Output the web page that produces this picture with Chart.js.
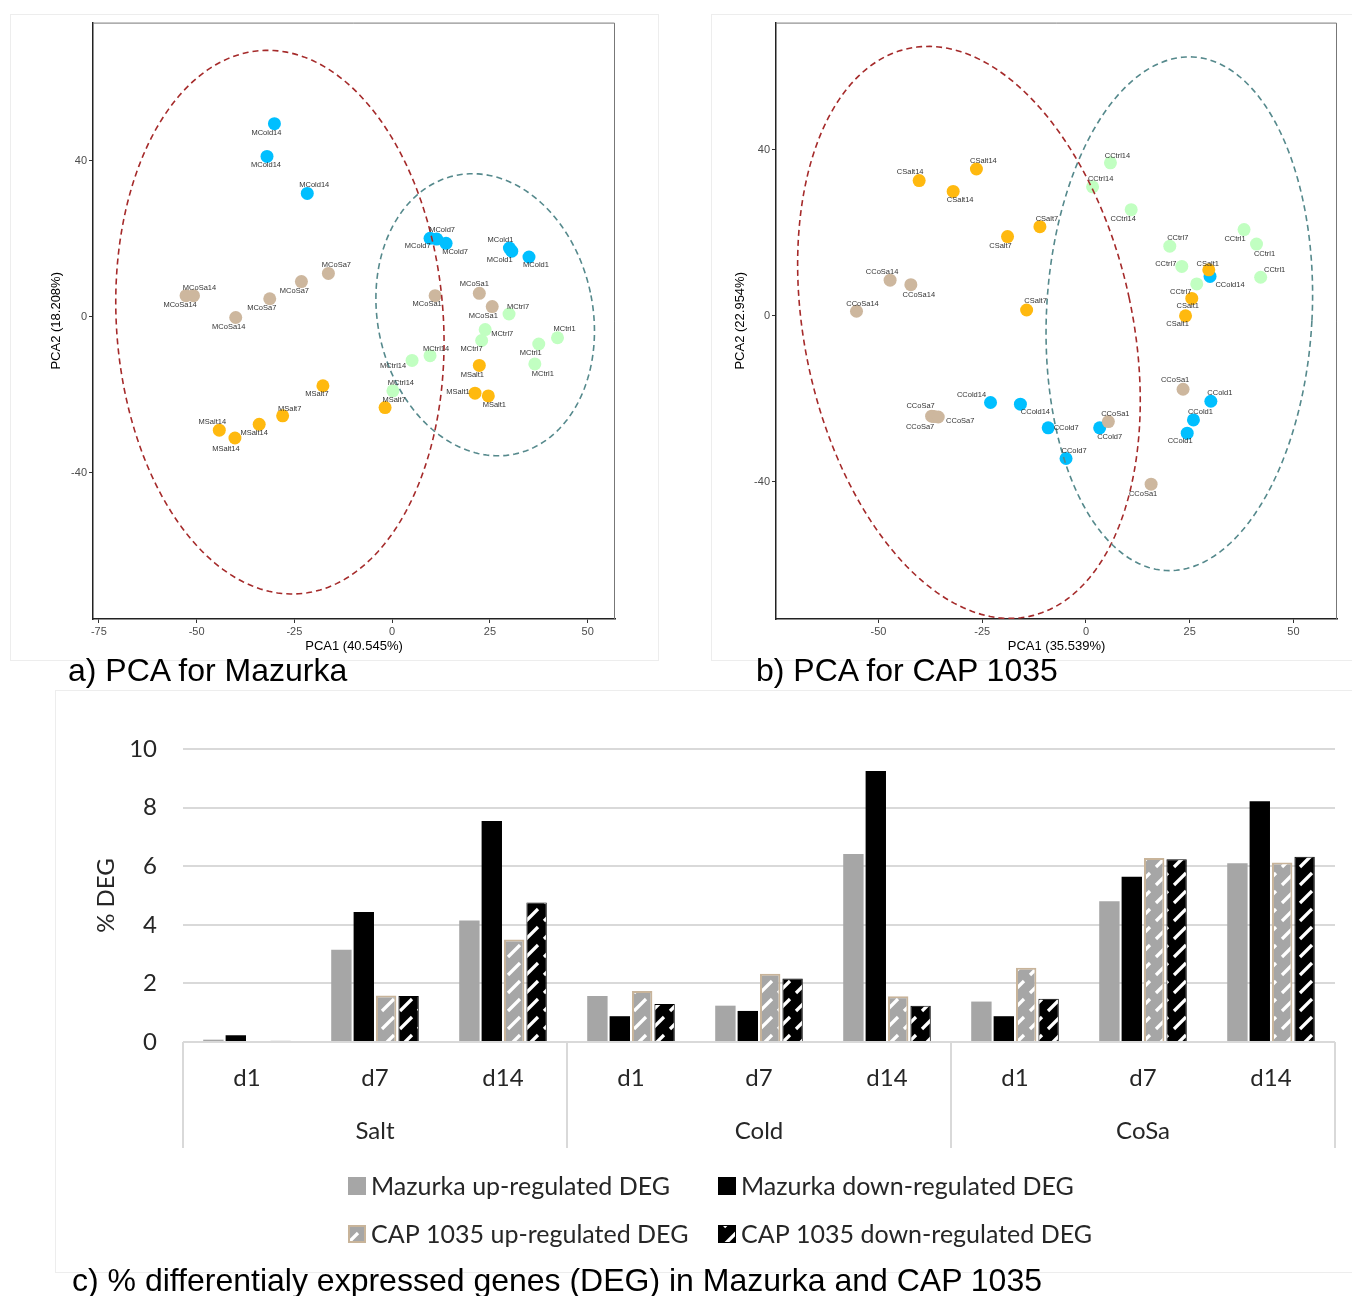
<!DOCTYPE html>
<html>
<head>
<meta charset="utf-8">
<script src="https://cdn.jsdelivr.net/npm/chart.js@4.4.1/dist/chart.umd.min.js"></script>
<style>
  body { margin: 0; background: #fff; width: 1352px; height: 1296px; position: relative; overflow: hidden; }
  .frame { position: absolute; border: 1px solid #ededed; box-sizing: border-box; }
  canvas { position: absolute; }
  .cap { position: absolute; font-family: "Liberation Sans", Arial, sans-serif; font-size: 32px; line-height: 36px; color: #000; white-space: nowrap; }
</style>
</head>
<body>
<div class="frame" style="left:10px;top:14px;width:649px;height:647px"></div>
<div class="frame" style="left:711px;top:14px;width:650px;height:647px"></div>
<div class="frame" style="left:55px;top:690px;width:1310px;height:583px"></div>
<canvas id="pcaM" width="648" height="646" style="left:10px;top:14px"></canvas>
<canvas id="pcaC" width="641" height="646" style="left:711px;top:14px"></canvas>
<canvas id="deg" width="1297" height="582" style="left:55px;top:690px"></canvas>
<div class="cap" style="left:68px;top:652px">a) PCA for Mazurka</div>
<div class="cap" style="left:756px;top:652px">b) PCA for CAP 1035</div>
<div class="cap" style="left:72px;top:1262px">c) % differentialy expressed genes (DEG) in Mazurka and CAP 1035</div>

<script>
// ── PCA Mazurka ─────────────────────────────
const maLabel = ['MCold14','MCold14','MCold14','MCold7','MCold7','MCold7','MCold1','MCold1','MCold1',
  'MCoSa14','MCoSa14','MCoSa14','MCoSa7','MCoSa7','MCoSa7','MCoSa1','MCoSa1','MCoSa1',
  'MSalt14','MSalt14','MSalt14','MSalt7','MSalt7','MSalt7','MSalt1','MSalt1','MSalt1',
  'MCtrl14','MCtrl14','MCtrl14','MCtrl7','MCtrl7','MCtrl7','MCtrl1','MCtrl1','MCtrl1'];
const maPC1 = [-30.1, -32.0, -21.7, 9.7, 11.4, 13.8, 30.0, 30.6, 35.0,
  -52.7, -50.8, -40.0, -16.3, -23.2, -31.3, 11.0, 22.3, 25.6,
  -34.0, -44.2, -40.2, -17.7, -28.0, -1.8, 22.3, 21.2, 24.6,
  5.1, 9.7, 0.2, 29.9, 23.8, 22.9, 42.3, 37.5, 36.5];
const maPC2 = [49.5, 41.1, 31.6, 20.1, 19.9, 18.8, 17.6, 16.8, 15.3,
  5.4, 5.4, -0.2, 11.1, 9.0, 4.6, 5.4, 6.0, 2.6,
  -27.6, -29.1, -31.1, -17.7, -25.4, -23.3, -12.5, -19.6, -20.3,
  -11.2, -10.0, -19.0, 0.7, -3.3, -6.1, -5.4, -7.0, -12.1];

// ── PCA CAP 1035 ────────────────────────────
const capLabel = ['CSalt14','CSalt14','CSalt14','CSalt7','CSalt7','CSalt7','CSalt1','CSalt1','CSalt1',
  'CCoSa14','CCoSa14','CCoSa14','CCoSa7','CCoSa7','CCoSa7','CCoSa1','CCoSa1','CCoSa1',
  'CCold14','CCold14','CCold14','CCold7','CCold7','CCold7','CCold1','CCold1','CCold1',
  'CCtrl14','CCtrl14','CCtrl14','CCtrl7','CCtrl7','CCtrl7','CCtrl1','CCtrl1','CCtrl1'];
const capPC1 = [-40.2, -32.0, -26.4, -11.1, -18.9, -14.3, 29.6, 25.5, 24.0,
  -47.2, -42.2, -55.3, -37.2, -36.6, -35.6, 5.4, 23.4, 15.7,
  -23.0, -15.8, 29.9, -9.1, -4.8, 3.3, 30.1, 25.9, 24.4,
  5.9, 1.6, 10.9, 20.2, 23.1, 26.7, 38.1, 41.1, 42.1];
const capPC2 = [32.6, 30.0, 35.4, 21.5, 19.1, 1.4, 11.1, 4.2, 0.0,
  8.6, 7.5, 1.1, -24.2, -24.3, -24.4, -25.5, -17.7, -40.6,
  -20.9, -21.3, 9.5, -27.0, -34.4, -27.0, -20.6, -25.1, -28.3,
  36.9, 31.1, 25.6, 16.8, 11.9, 7.7, 20.8, 17.3, 9.3];

// text nudges for the point labels (px), same order as the label arrays
const maNudge = [[-8,9],[-1,9],[7,-9],[12,-8],[-19,7],[9,9],[-9,-8],[-12,9],[7,8],
  [-6,9],[6,-8],[-7,9],[8,-8],[-7,9],[-8,9],[-8,8],[-5,-9],[-9,9],
  [-5,9],[-7,-8],[-9,11],[-6,8],[7,-7],[9,-8],[-7,9],[-17,-1],[6,9],
  [-19,6],[6,-7],[8,-8],[9,-7],[17,4],[-10,8],[7,-9],[-8,9],[8,10]];
const capNudge = [[-9,-9],[7,9],[7,-8],[7,-8],[-7,9],[9,-9],[-1,-6],[-4,8],[-8,8],
  [-8,-8],[8,10],[6,-7],[-11,-10],[-14,10],[22,4],[7,-8],[-8,-9],[-8,10],
  [-19,-8],[15,8],[20,9],[18,0],[8,-8],[10,9],[9,-8],[7,-8],[-7,8],
  [7,-7],[8,-8],[-8,9],[8,-8],[-16,-3],[-16,8],[-9,9],[8,10],[14,-7]];

const groupNames  = ['Salt', 'CoSa', 'Ctrl', 'Cold'];
const groupColors = ['#FFB90F', '#CDB79E', '#C1FFC1', '#00BFFF'];

// stat_ellipse outlines (data units)
const maEllipses  = [
  { cx: -28.7, cy: -1.4, a: 41.8, b: 69.8, theta: 4,  color: '#a52a2a' },
  { cx: 23.8,  cy: 0.5,  a: 27.5, b: 36.5, theta: 12, color: '#55898c' },
];
const capEllipses = [
  { cx: -28.2, cy: -4.0, a: 39.5, b: 70.0, theta: 12, color: '#a52a2a' },
  { cx: 22.5,  cy: 0.5,  a: 32.0, b: 62.0, theta: -3, color: '#55898c' },
];

// ── DEG bars ────────────────────────────────
const dayLabels    = ['d1', 'd7', 'd14', 'd1', 'd7', 'd14', 'd1', 'd7', 'd14'];
const stressGroups = ['Salt', 'Cold', 'CoSa'];
const mazurkaUp    = [0.08, 3.15, 4.15, 1.57, 1.24, 6.42, 1.38, 4.80, 6.10];
const mazurkaDown  = [0.23, 4.44, 7.54, 0.88, 1.06, 9.25, 0.88, 5.64, 8.22];
const capUp        = [0.03, 1.59, 3.50, 1.74, 2.33, 1.56, 2.53, 6.28, 6.13];
const capDown      = [0.04, 1.57, 4.76, 1.30, 2.17, 1.24, 1.48, 6.24, 6.32];

const SANS = '"Liberation Sans", Arial, sans-serif';
const CAL  = 'Lato, "Open Sans", sans-serif';

function pcaDatasets(labels, pc1, pc2) {
  return groupNames.map((g, gi) => ({
    label: g,
    data: labels.map((l, i) => ({ x: pc1[i], y: pc2[i], i }))
                .filter(p => labels[p.i].slice(1).startsWith(g)),
    backgroundColor: groupColors[gi],
    borderWidth: 0,
    pointRadius: 6.5,
    pointHoverRadius: 6.5,
  }));
}

function ellipsePlugin(list) {
  return {
    id: 'ellipses',
    afterDatasetsDraw(chart) {
      const { ctx, chartArea: ca, scales: { x, y } } = chart;
      ctx.save();
      ctx.beginPath(); ctx.rect(ca.left, ca.top, ca.width, ca.height); ctx.clip();
      for (const e of list) {
        const th = e.theta * Math.PI / 180;
        ctx.beginPath();
        for (let k = 0; k <= 240; k++) {
          const t = k / 240 * 2 * Math.PI;
          const u = e.a * Math.cos(t), v = e.b * Math.sin(t);
          const px = x.getPixelForValue(e.cx + u * Math.cos(th) - v * Math.sin(th));
          const py = y.getPixelForValue(e.cy + u * Math.sin(th) + v * Math.cos(th));
          if (k) ctx.lineTo(px, py); else ctx.moveTo(px, py);
        }
        ctx.setLineDash([6, 4]);
        ctx.lineWidth = 1.6;
        ctx.strokeStyle = e.color;
        ctx.stroke();
      }
      ctx.restore();
    },
  };
}

function labelPlugin(names, nudge) {
  return {
    id: 'pointLabels',
    afterDatasetsDraw(chart) {
      const ctx = chart.ctx;
      ctx.save();
      ctx.font = '7.5px ' + SANS;
      ctx.fillStyle = '#333';
      ctx.textAlign = 'center';
      ctx.textBaseline = 'middle';
      chart.data.datasets.forEach((ds, d) => {
        chart.getDatasetMeta(d).data.forEach((el, k) => {
          const i = ds.data[k].i;
          ctx.fillText(names[i], el.x + nudge[i][0], el.y + nudge[i][1]);
        });
      });
      ctx.restore();
    },
  };
}

const panelBox = {
  id: 'panelBox',
  afterDraw(chart) {
    const { ctx, chartArea: ca } = chart;
    ctx.save();
    ctx.strokeStyle = '#777';
    ctx.lineWidth = 1;
    ctx.beginPath();
    ctx.moveTo(ca.left, ca.top + 0.5); ctx.lineTo(ca.right - 0.5, ca.top + 0.5); ctx.lineTo(ca.right - 0.5, ca.bottom);
    ctx.stroke();
    ctx.restore();
  },
};

function pcaChart(id, labels, pc1, pc2, nudge, ellipses, cfg) {
  const tickFont  = { family: SANS, size: 11 };
  const titleFont = { family: SANS, size: 13 };
  return new Chart(document.getElementById(id), {
    type: 'scatter',
    data: { datasets: pcaDatasets(labels, pc1, pc2) },
    options: {
      responsive: false, animation: false, devicePixelRatio: 1,
      layout: { padding: cfg.padding },
      plugins: { legend: { display: false }, tooltip: { enabled: false } },
      scales: {
        x: {
          type: 'linear', min: cfg.xRange[0], max: cfg.xRange[1],
          afterBuildTicks: s => { s.ticks = cfg.xTicks.map(v => ({ value: v })); },
          afterFit: s => { s.height = cfg.xHeight; },
          grid: { drawOnChartArea: false, tickLength: 4, color: '#333' },
          border: { color: '#222', width: 1.5 },
          ticks: { color: '#4d4d4d', font: tickFont, padding: 2, maxRotation: 0 },
          title: { display: true, text: cfg.xTitle, color: '#000', font: titleFont, padding: { top: 0, bottom: 4 } },
        },
        y: {
          type: 'linear', min: cfg.yRange[0], max: cfg.yRange[1],
          afterBuildTicks: s => { s.ticks = cfg.yTicks.map(v => ({ value: v })); },
          afterFit: s => { s.width = cfg.yWidth; },
          grid: { drawOnChartArea: false, tickLength: 4, color: '#333' },
          border: { color: '#222', width: 1.5 },
          ticks: { color: '#4d4d4d', font: tickFont, padding: 2 },
          title: { display: true, text: cfg.yTitle, color: '#000', font: titleFont, padding: { top: 4, bottom: 0 } },
        },
      },
    },
    plugins: [ellipsePlugin(ellipses), labelPlugin(labels, nudge), panelBox],
  });
}

pcaChart('pcaM', maLabel, maPC1, maPC2, maNudge, maEllipses, {
  padding: { left: 35, top: 7, right: 43, bottom: 2 },
  xRange: [-76.5, 57.0], yRange: [-77.5, 75.4],
  xTicks: [-75, -50, -25, 0, 25, 50], yTicks: [-40, 0, 40],
  xHeight: 39, yWidth: 48,
  xTitle: 'PCA1 (40.545%)', yTitle: 'PCA2 (18.208%)',
});

pcaChart('pcaC', capLabel, capPC1, capPC2, capNudge, capEllipses, {
  padding: { left: 18, top: 7, right: 15, bottom: 2 },
  xRange: [-74.7, 60.5], yRange: [-73.1, 70.7],
  xTicks: [-50, -25, 0, 25, 50], yTicks: [-40, 0, 40],
  xHeight: 39, yWidth: 47,
  xTitle: 'PCA1 (35.539%)', yTitle: 'PCA2 (22.954%)',
});

// ── Bar chart ───────────────────────────────
function stripes(bg) {
  const c = document.createElement('canvas');
  c.width = 18; c.height = 18;
  const g = c.getContext('2d');
  g.fillStyle = bg; g.fillRect(0, 0, 18, 18);
  g.strokeStyle = '#fff'; g.lineWidth = 3.2;
  g.beginPath(); g.moveTo(3, 15); g.lineTo(15, 3); g.stroke();
  return g.createPattern(c, 'repeat');
}

const groupAxis = {
  id: 'groupAxis',
  afterDraw(chart) {
    const { ctx, chartArea: ca, scales: { x } } = chart;
    const per = dayLabels.length / stressGroups.length;
    ctx.save();
    ctx.strokeStyle = '#d9d9d9';
    ctx.lineWidth = 2;
    for (let g = 0; g <= stressGroups.length; g++) {
      const px = Math.round(x.getPixelForValue(g * per - 0.5));
      ctx.beginPath(); ctx.moveTo(px, ca.bottom); ctx.lineTo(px, ca.bottom + 106); ctx.stroke();
    }
    ctx.fillStyle = '#262626';
    ctx.font = '24px ' + CAL;
    ctx.textAlign = 'center';
    ctx.textBaseline = 'middle';
    stressGroups.forEach((g, gi) => {
      ctx.fillText(g, x.getPixelForValue(gi * per + (per - 1) / 2), ca.bottom + 89);
    });
    ctx.restore();
  },
};

const degLegend = {
  id: 'degLegend',
  afterDraw(chart) {
    const { ctx, chartArea: ca } = chart;
    const cols = [293, 663], rows = [ca.bottom + 144, ca.bottom + 192];
    ctx.save();
    ctx.font = '25px ' + CAL;
    ctx.textBaseline = 'middle';
    chart.data.datasets.forEach((ds, i) => {
      const bx = cols[i % 2], by = rows[Math.floor(i / 2)];
      ctx.fillStyle = ds.backgroundColor;
      ctx.fillRect(bx, by - 9, 18, 18);
      if (ds.borderWidth) {
        ctx.strokeStyle = ds.borderColor;
        ctx.lineWidth = ds.borderWidth;
        ctx.strokeRect(bx + ds.borderWidth / 2, by - 9 + ds.borderWidth / 2, 18 - ds.borderWidth, 18 - ds.borderWidth);
      }
      ctx.fillStyle = '#262626';
      ctx.fillText(ds.label, bx + 23, by + 1);
    });
    ctx.restore();
  },
};

new Chart(document.getElementById('deg'), {
  type: 'bar',
  data: {
    labels: dayLabels,
    datasets: [
      { label: 'Mazurka up-regulated DEG',   data: mazurkaUp,   backgroundColor: '#a6a6a6', borderWidth: 0 },
      { label: 'Mazurka down-regulated DEG', data: mazurkaDown, backgroundColor: '#000000', borderWidth: 0 },
      { label: 'CAP 1035 up-regulated DEG',  data: capUp,   backgroundColor: stripes('#a6a6a6'), borderColor: '#c8b49a', borderWidth: 2 },
      { label: 'CAP 1035 down-regulated DEG', data: capDown, backgroundColor: stripes('#000000'), borderColor: '#000000', borderWidth: 1 },
    ],
  },
  options: {
    responsive: false, animation: false, devicePixelRatio: 1,
    datasets: { bar: { categoryPercentage: 0.7, barPercentage: 0.91 } },
    layout: { padding: { left: 33, top: 59, right: 17, bottom: 0 } },
    plugins: { legend: { display: false }, tooltip: { enabled: false } },
    scales: {
      x: {
        grid: { display: false },
        border: { display: false },
        ticks: { color: '#262626', font: { family: CAL, size: 24 }, padding: 14, maxRotation: 0 },
        afterFit: s => { s.height = 230; },
      },
      y: {
        min: 0, max: 10,
        ticks: { stepSize: 2, color: '#262626', font: { family: CAL, size: 24 }, padding: 26 },
        grid: { color: '#d9d9d9', lineWidth: 2, drawTicks: false },
        border: { display: false },
        title: { display: true, text: '% DEG', color: '#262626', font: { family: CAL, size: 24 }, padding: { top: 4, bottom: 4 } },
        afterFit: s => { s.width = 95; },
      },
    },
  },
  plugins: [groupAxis, degLegend],
});
</script>
</body>
</html>
